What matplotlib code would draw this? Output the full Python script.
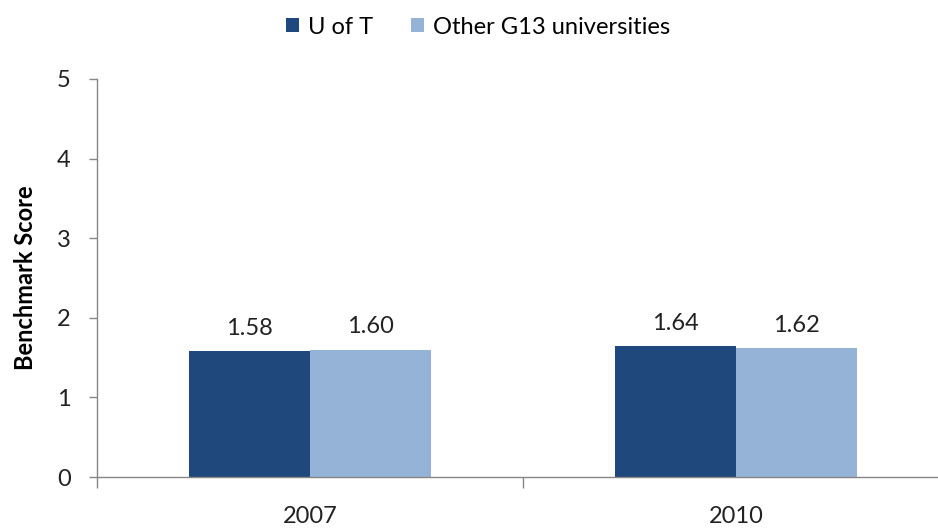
import matplotlib.pyplot as plt
import numpy as np

plt.rcParams['font.family'] = ['Lato', 'DejaVu Sans']

years = ['2007', '2010']
uoft = [1.58, 1.64]
other_g13 = [1.60, 1.62]
series_names = ['U of T', 'Other G13 universities']
colors = ['#1F497D', '#95B3D7']
yticks = [0, 1, 2, 3, 4, 5]

fig = plt.figure(figsize=(9.38, 5.29), dpi=100)
ax = fig.add_axes([97 / 938, 1 - 477 / 529, 852 / 938, 398 / 529])

x = np.arange(len(years))
w = 0.284
b1 = ax.bar(x - w / 2, uoft, w, color=colors[0], label=series_names[0])
b2 = ax.bar(x + w / 2, other_g13, w, color=colors[1], label=series_names[1])

for bars, vals in [(b1, uoft), (b2, other_g13)]:
    for bar, v in zip(bars, vals):
        ax.annotate(f'{v:.2f}', (bar.get_x() + bar.get_width() / 2, v),
                    xytext=(0, 9), textcoords='offset points',
                    ha='center', va='bottom', fontsize=17, color='#222222')

ax.set_xlim(-0.5, 1.5)
ax.set_ylim(0, 5)
ax.set_yticks(yticks)
ax.set_xticks(x)
ax.set_xticklabels(years)
ax.set_xticks([-0.5, 0.5, 1.5], minor=True)

for s in ['top', 'right']:
    ax.spines[s].set_visible(False)
for s in ['left', 'bottom']:
    ax.spines[s].set_color('#868686')
    ax.spines[s].set_linewidth(1)

ax.tick_params(axis='y', length=6, width=1, color='#868686', pad=13,
               labelsize=17, labelcolor='#222222')
ax.tick_params(axis='x', which='major', length=0, pad=21,
               labelsize=17, labelcolor='#222222')
ax.tick_params(axis='x', which='minor', length=8, width=1, color='#868686')

ax.set_ylabel('Benchmark Score', fontsize=17, fontweight='bold', labelpad=14)

fig.legend(handles=[b1, b2], loc='center', bbox_to_anchor=(478 / 938, 1 - 27 / 529),
           ncol=2, frameon=False, fontsize=17, handlelength=0.55, handleheight=0.55,
           handletextpad=0.4, columnspacing=1.6)

fig.savefig('out.png', dpi=100)
